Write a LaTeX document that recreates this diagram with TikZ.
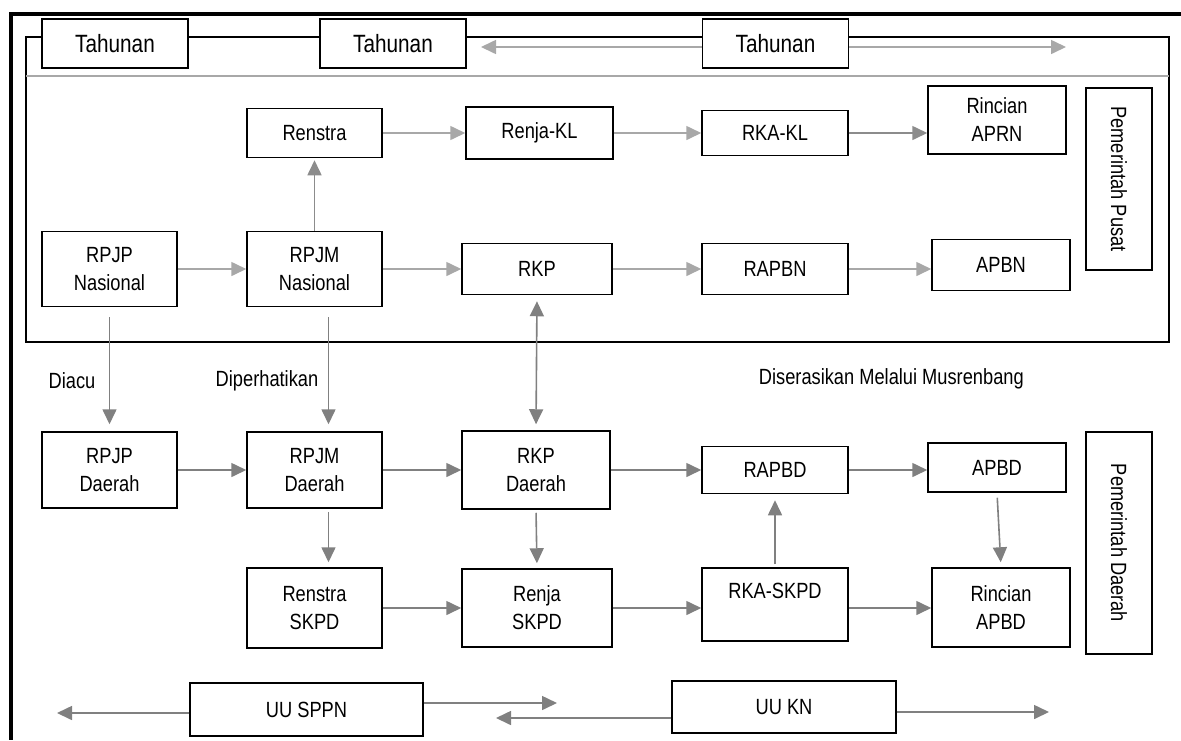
\documentclass[tikz,border=0pt]{standalone}
\usepackage{fontspec}
\setmainfont{Liberation Sans}[FakeStretch=0.83]
\usetikzlibrary{arrows.meta}
\definecolor{abumuda}{HTML}{A8A8A8}
\definecolor{abutua}{HTML}{808080}
\definecolor{abusedang}{HTML}{8C8C8C}
\tikzset{
	kotak/.style={draw, line width=1.5pt, fill=white, align=center, inner sep=0pt, font=\fontsize{22}{28}\selectfont},
	teks/.style={inner sep=0pt, font=\fontsize{22}{28}\selectfont},
	panah/.style={line width=1.6pt, -{Triangle[length=15pt,width=14pt]}},
	panahmuda/.style={panah, color=abumuda},
	panahtua/.style={panah, color=abutua},
	panahsedang/.style={panah, color=abusedang}
}

\begin{document}
\begin{tikzpicture}[x=1pt, y=-1pt]
		%%%%% START %%%%%
		\useasboundingbox (0,0) rectangle (1181,740);
		
		% bingkai luar dan dalam
		\draw[line width=3.5pt] (1181,14) -- (11,14) -- (11,740);
		\draw[line width=1.3pt] (26,37) rectangle (1169,342);
		\draw[line width=1.3pt, color=abumuda] (26,76) -- (1169,76);
		
		\node[kotak, minimum width=146pt, minimum height=49pt, font=\fontsize{25}{30}\selectfont] (tahun1) at (115,43.5) {Tahunan};
		\node[kotak, minimum width=146pt, minimum height=49pt, font=\fontsize{25}{30}\selectfont] (tahun2) at (393,43.5) {Tahunan};
		\node[kotak, minimum width=146pt, minimum height=49pt, font=\fontsize{25}{30}\selectfont] (tahun3) at (775.5,43.5) {Tahunan};
		\coordinate (ujungkiri) at (481,47);
		\coordinate (ujungkanan) at (1066,47);
		\draw[panahmuda] (tahun3.west |- ujungkiri) -- (ujungkiri);
		\draw[panahmuda] (tahun3.east |- ujungkanan) -- (ujungkanan);
		
		% pemerintah pusat
		\node[kotak, minimum width=135pt, minimum height=49pt] (renstra) at (314.5,133) {Renstra};
		\node[kotak, minimum width=147pt, minimum height=52pt] (renjakl) at (539.5,133) {Renja-KL};
		\node[kotak, minimum width=146pt, minimum height=45pt] (rkakl) at (775,133) {RKA-KL};
		\node[kotak, minimum width=138pt, minimum height=68pt] (rincianN) at (997,120) {Rincian\\APRN};
		\node[kotak, rotate=-90, minimum width=182pt, minimum height=66pt] (pusat) at (1119,179) {Pemerintah Pusat};
		
		\node[kotak, minimum width=135pt, minimum height=75pt] (rpjpN) at (109.5,269) {RPJP\\Nasional};
		\node[kotak, minimum width=135pt, minimum height=75pt] (rpjmN) at (314.5,269) {RPJM\\Nasional};
		\node[kotak, minimum width=150pt, minimum height=51pt] (rkp) at (537,269) {RKP};
		\node[kotak, minimum width=146pt, minimum height=51pt] (rapbn) at (775,269) {RAPBN};
		\node[kotak, minimum width=138pt, minimum height=51pt] (apbn) at (1001,265) {APBN};
		
		\draw[panahmuda] (renstra) -- (renjakl);
		\draw[panahmuda] (renjakl) -- (rkakl);
		\draw[panahsedang] (rkakl.east) -- (rkakl.east -| rincianN.west);
		\draw[panahsedang, shorten >=2pt] (rpjmN.north) -- (renstra.south);
		\draw[panahmuda] (rpjpN) -- (rpjmN);
		\draw[panahmuda] (rpjmN) -- (rkp);
		\draw[panahmuda] (rkp) -- (rapbn);
		\draw[panahmuda] (rapbn.east) -- (rapbn.east -| apbn.west);
		
		% penghubung
		\node[teks] (diacu) at (72,381) {Diacu};
		\node[teks] (diperhatikan) at (267,381) {Diperhatikan};
		\node[teks, anchor=east] (diserasikan) at (1024,379) {Diserasikan Melalui Musrenbang};
		
		% pemerintah daerah
		\node[kotak, minimum width=135pt, minimum height=76pt] (rpjpD) at (109.5,470) {RPJP\\Daerah};
		\node[kotak, minimum width=135pt, minimum height=76pt] (rpjmD) at (314.5,470) {RPJM\\Daerah};
		\node[kotak, minimum width=148pt, minimum height=78pt] (rkpD) at (536,470) {RKP\\Daerah};
		\node[kotak, minimum width=146pt, minimum height=47pt] (rapbd) at (775,470) {RAPBD};
		\node[kotak, minimum width=138pt, minimum height=49pt] (apbd) at (997,467.5) {APBD};
		\node[kotak, rotate=-90, minimum width=222pt, minimum height=66pt] (daerah) at (1119,543) {Pemerintah Daerah};
		
		\node[kotak, minimum width=135pt, minimum height=80pt] (renstraS) at (314.5,608) {Renstra\\SKPD};
		\node[kotak, minimum width=150pt, minimum height=78pt] (renjaS) at (537,608) {Renja\\SKPD};
		\node[kotak, minimum width=146pt, minimum height=73pt] (rkaS) at (775,604.5) {RKA-SKPD\\\mbox{}};
		\node[kotak, minimum width=138pt, minimum height=79pt] (rincianD) at (1001,607.5) {Rincian\\APBD};
		
		\draw[panahtua, shorten <=10pt, shorten >=7pt] (rpjpN.south) -- (rpjpD.north);
		\draw[panahtua, shorten <=10pt, shorten >=7pt] ([xshift=14pt]rpjmN.south) -- ([xshift=14pt]rpjmD.north);
		\draw[panahtua, {Triangle[length=15pt,width=14pt]}-{Triangle[length=15pt,width=14pt]}, shorten <=6pt, shorten >=6pt] (rkp.south) -- (rkpD.north);
		
		\draw[panahtua] (rpjpD) -- (rpjmD);
		\draw[panahtua] (rpjmD) -- (rkpD);
		\draw[panahtua] (rkpD) -- (rapbd);
		\draw[panahtua] (rapbd) -- (rapbd -| apbd.west);
		\draw[panahtua, shorten <=3pt, shorten >=5pt] ([xshift=14pt]rpjmD.south) -- ([xshift=14pt]renstraS.north);
		\draw[panahtua, shorten <=3pt, shorten >=5pt] (rkpD.south) -- (renjaS.north);
		\draw[panahtua, shorten <=3pt, shorten >=6pt] (rkaS.north) -- (rapbd.south);
		\draw[panahtua, shorten <=5pt, shorten >=5pt] (apbd.south) -- (rincianD.north);
		\draw[panahtua] (renstraS) -- (renjaS);
		\draw[panahtua] (renjaS.east) -- (renjaS.east -| rkaS.west);
		\draw[panahtua] (rkaS.east |- renjaS.east) -- (renjaS.east -| rincianD.west);
		
		% undang-undang
		\node[kotak, minimum width=233pt, minimum height=53pt] (uusppn) at (306.5,709.5) {UU SPPN};
		\node[kotak, minimum width=224pt, minimum height=52pt] (uukn) at (784,707) {UU KN};
		\coordinate (kiri1) at (57,713);
		\coordinate (kanan1) at (557,703);
		\coordinate (kiri2) at (496,718);
		\coordinate (kanan2) at (1049,712);
		\draw[panahtua] (uusppn.west |- kiri1) -- (kiri1);
		\draw[panahtua] (uusppn.east |- kanan1) -- (kanan1);
		\draw[panahtua] (uukn.west |- kiri2) -- (kiri2);
		\draw[panahtua] (uukn.east |- kanan2) -- (kanan2);
		
		%%%%% END %%%%%
	\end{tikzpicture}
\end{document}
